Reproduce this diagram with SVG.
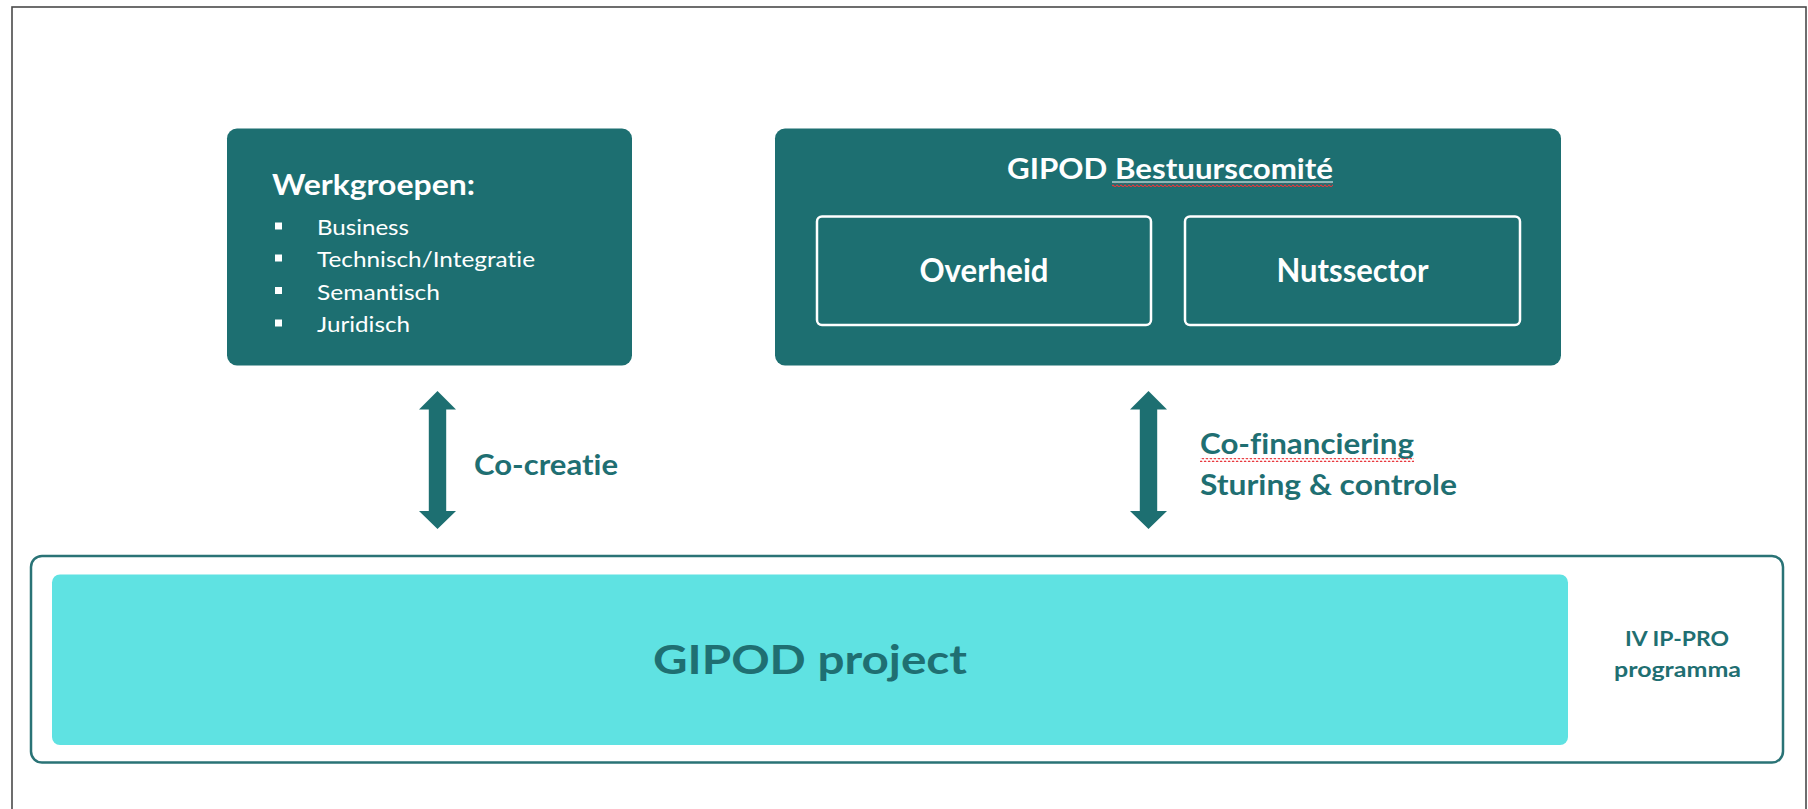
<svg xmlns="http://www.w3.org/2000/svg" width="1808" height="809" viewBox="0 0 1808 809">
  <style>
    text { font-variant-ligatures: none; font-feature-settings: "liga" 0, "dlig" 0; }
    .dark { fill: #1d6f71; }
    .wtxt { fill: #ffffff; font-family: Lato, "Open Sans", "Liberation Sans", sans-serif; }
    .ttxt { fill: #1f6f72; font-family: Lato, "Open Sans", "Liberation Sans", sans-serif; font-weight: bold; }
    .inner { fill: none; stroke: #ffffff; stroke-width: 2.5; }
    .arrow { fill: #1d6f71; }
  </style>
  <defs>
    <pattern id="squiggle" patternUnits="userSpaceOnUse" x="0" y="0" width="4" height="4">
      <path d="M0 2 Q1 0.3 2 2 T4 2" fill="none" stroke="#e8353a" stroke-width="1.2"/>
    </pattern>
  </defs>

  <rect x="0" y="0" width="1808" height="809" fill="#ffffff"/>
  <rect id="page-frame" x="12" y="7" width="1794" height="820" fill="none" stroke="#4a4a4a" stroke-width="1.6"/>

  <g id="werkgroepen">
    <rect class="dark" x="227" y="128.5" width="405" height="237" rx="10"/>
    <text class="wtxt" x="272" y="195" font-size="28" font-weight="bold" textLength="203" lengthAdjust="spacingAndGlyphs">Werkgroepen:</text>
    <rect x="275" y="222.5" width="7" height="7" fill="#ffffff"/>
    <text class="wtxt" x="317" y="235" font-size="21" textLength="92" lengthAdjust="spacingAndGlyphs">Business</text>
    <rect x="275" y="254.5" width="7" height="7" fill="#ffffff"/>
    <text class="wtxt" x="317" y="267" font-size="21" textLength="218" lengthAdjust="spacingAndGlyphs">Technisch/Integratie</text>
    <rect x="275" y="287" width="7" height="7" fill="#ffffff"/>
    <text class="wtxt" x="317" y="299.5" font-size="21" textLength="123" lengthAdjust="spacingAndGlyphs">Semantisch</text>
    <rect x="275" y="319.5" width="7" height="7" fill="#ffffff"/>
    <text class="wtxt" x="317" y="332" font-size="21" textLength="93" lengthAdjust="spacingAndGlyphs">Juridisch</text>
  </g>

  <g id="bestuurscomite">
    <rect class="dark" x="775" y="128.5" width="786" height="237" rx="10"/>
    <text class="wtxt" x="1007" y="179" font-size="28" font-weight="bold" textLength="326" lengthAdjust="spacingAndGlyphs">GIPOD Bestuurscomité</text>
    <line x1="1112" y1="182" x2="1333" y2="182" stroke="#ffffff" stroke-width="1"/>
    <rect x="1112" y="183" width="221" height="4" fill="url(#squiggle)"/>
    <g id="overheid">
      <rect class="inner" x="817" y="216.5" width="334" height="108.5" rx="5"/>
      <text class="wtxt" x="984" y="281.5" font-size="32" font-weight="bold" text-anchor="middle" textLength="129" lengthAdjust="spacingAndGlyphs">Overheid</text>
    </g>
    <g id="nutssector">
      <rect class="inner" x="1185" y="216.5" width="335" height="108.5" rx="5"/>
      <text class="wtxt" x="1352.5" y="281.5" font-size="32" font-weight="bold" text-anchor="middle" textLength="152" lengthAdjust="spacingAndGlyphs">Nutssector</text>
    </g>
  </g>

  <g id="programma">
    <rect x="31" y="556" width="1752" height="206.5" rx="11" fill="#ffffff" stroke="#2a7376" stroke-width="2.5"/>
    <text class="ttxt" x="1677" y="646" font-size="21" text-anchor="middle" textLength="104" lengthAdjust="spacingAndGlyphs">IV IP-PRO</text>
    <text class="ttxt" x="1677.5" y="677" font-size="21" text-anchor="middle" textLength="127" lengthAdjust="spacingAndGlyphs">programma</text>
    <g id="gipod-project">
      <rect x="52" y="574.5" width="1516" height="170.5" rx="8" fill="#5fe2e2"/>
      <text class="ttxt" x="810" y="674" font-size="40" text-anchor="middle" textLength="314" lengthAdjust="spacingAndGlyphs" fill="#1e6e70">GIPOD project</text>
    </g>
  </g>

  <g id="connectors">
    <g id="co-creatie">
      <polygon class="arrow" points="437.5,391 456,409.5 446.2,409.5 446.2,511 456,511 437.5,529 419,511 428.8,511 428.8,409.5 419,409.5"/>
      <text class="ttxt" x="474" y="475" font-size="29" textLength="144" lengthAdjust="spacingAndGlyphs">Co-creatie</text>
    </g>
    <g id="co-financiering">
      <polygon class="arrow" points="1148.5,391 1167,409.5 1157.2,409.5 1157.2,511 1167,511 1148.5,529 1130,511 1139.8,511 1139.8,409.5 1130,409.5"/>
      <text class="ttxt" x="1200" y="454" font-size="29" textLength="214" lengthAdjust="spacingAndGlyphs">Co-financiering</text>
      <rect x="1200" y="458" width="214" height="4" fill="url(#squiggle)"/>
      <text class="ttxt" x="1200" y="495" font-size="29" textLength="257" lengthAdjust="spacingAndGlyphs">Sturing &amp; controle</text>
    </g>
  </g>
</svg>
